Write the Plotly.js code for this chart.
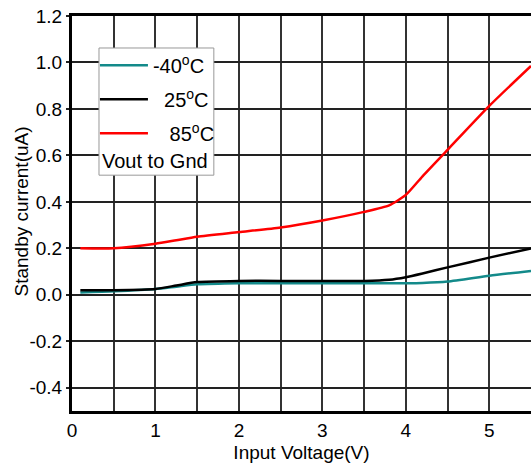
<!DOCTYPE html>
<html>
<head>
<meta charset="utf-8">
<script src="https://cdn.plot.ly/plotly-3.0.1.min.js"></script>
<style>html,body{margin:0;padding:0;background:#fff;}#chart{width:531px;height:465px;}</style>
</head>
<body>
<div id="chart"></div>
<script>
// Input voltage (V)
const vin = [0.1, 0.5, 1.0, 1.25, 1.5, 2.0, 2.5, 3.0, 3.5, 3.8, 4.0, 4.2, 4.5, 5.0, 5.5];
// Standby current (uA)
const iM40 = [0.010, 0.015, 0.025, 0.035, 0.045, 0.050, 0.050, 0.050, 0.050, 0.050, 0.050, 0.051, 0.057, 0.082, 0.103];
const i25  = [0.020, 0.020, 0.025, 0.040, 0.055, 0.060, 0.060, 0.060, 0.060, 0.065, 0.076, 0.092, 0.118, 0.160, 0.200];
const i85  = [0.200, 0.200, 0.220, 0.235, 0.250, 0.270, 0.290, 0.320, 0.357, 0.385, 0.430, 0.510, 0.624, 0.813, 0.985];
const seriesNames = ["-40<sup>o</sup>C", "\u00a0\u00a025<sup>o</sup>C", "\u00a0\u00a0\u00a085<sup>o</sup>C"];
const seriesColors = ["#138a8a", "#000000", "#ff0000"];
const yTickVals = [-0.4, -0.2, 0.0, 0.2, 0.4, 0.6, 0.8, 1.0, 1.2];
const yTickText = ["-0.4", "-0.2", "0.0", "0.2", "0.4", "0.6", "0.8", "1.0", "1.2"];
const legendNote = "Vout to Gnd";
const xTitle = "Input Voltage(V)";
const yTitle = "Standby current(uA)";

const ys = [iM40, i25, i85];
const traces = ys.map((y, k) => ({
  x: vin, y: y, type: "scatter", mode: "lines", name: seriesNames[k],
  legendgroup: "g" + k,
  line: {color: seriesColors[k], width: 2.5, shape: "spline", smoothing: 0.6}
}));

const fam = "Liberation Sans, Arial, sans-serif";
const font = {family: fam, size: 19, color: "#000"};
const lfont = {family: fam, size: 20, color: "#000"};
const layout = {
  width: 531, height: 465,
  margin: {l: 72, r: 0, t: 16, b: 54},
  paper_bgcolor: "#fff", plot_bgcolor: "#fff",
  font: font,
  showlegend: true,
  legend: {
    x: 0.050, y: 0.925, xanchor: "left", yanchor: "top",
    bgcolor: "rgba(0,0,0,0)", borderwidth: 0,
    font: lfont,
    itemwidth: 48, tracegroupgap: 5, traceorder: "grouped"
  },
  xaxis: {
    range: [0, 5.5], dtick: 1, tick0: 0,
    showgrid: true, gridcolor: "#333", gridwidth: 2,
    minor: {dtick: 0.5, showgrid: true, gridcolor: "#333", gridwidth: 2},
    showline: true, linecolor: "#000", linewidth: 3, mirror: true,
    zeroline: false, ticks: "", tickfont: font,
    title: {text: xTitle, font: font, standoff: 6}
  },
  yaxis: {
    range: [-0.5, 1.2], tickmode: "array", tickvals: yTickVals, ticktext: yTickText,
    showgrid: true, gridcolor: "#222", gridwidth: 2,
    showline: true, linecolor: "#000", linewidth: 3,
    zeroline: false, ticks: "outside", ticklen: 3, tickcolor: "#222", tickwidth: 2,
    tickfont: font
  },
  shapes: [{
    type: "rect", xref: "paper", yref: "paper", layer: "above",
    x0: 0.0588, x1: 0.309, y0: 0.597, y1: 0.919,
    fillcolor: "#fff", line: {color: "#999", width: 1}
  }],
  annotations: [{
    xref: "paper", yref: "paper", x: 0.060, y: 0.632, xanchor: "left", yanchor: "middle",
    text: legendNote, showarrow: false, font: lfont
  }, {
    xref: "paper", yref: "paper", x: -0.109, y: 0.505, xanchor: "center", yanchor: "middle",
    textangle: -90, text: yTitle, showarrow: false, font: font
  }]
};
Plotly.newPlot("chart", traces, layout, {displayModeBar: false, staticPlot: true});
</script>
</body>
</html>
